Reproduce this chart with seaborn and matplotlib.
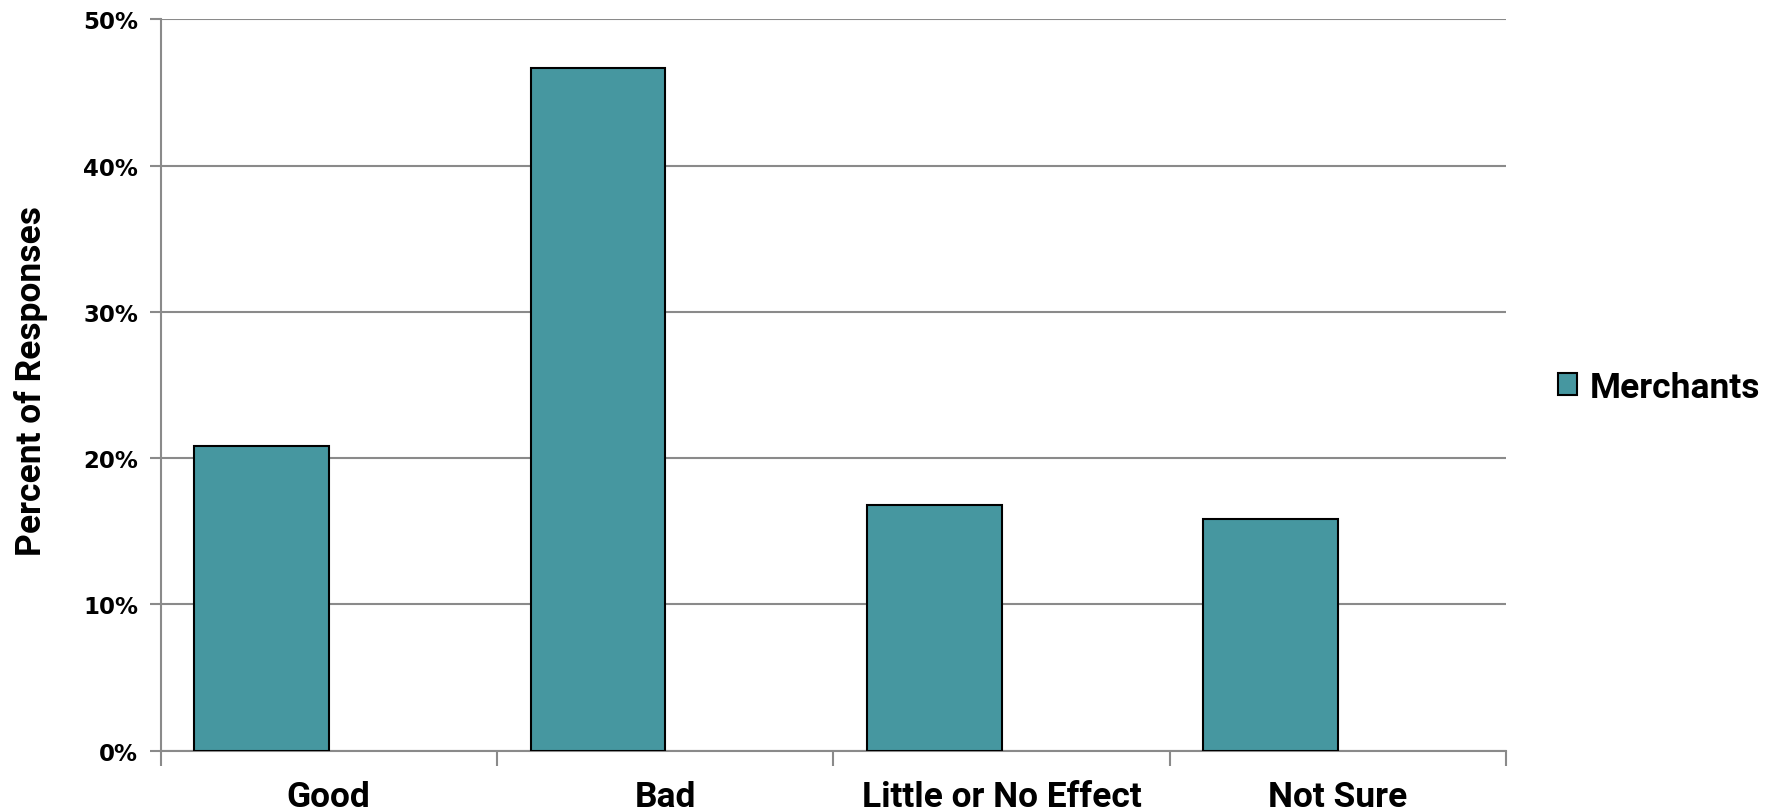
import matplotlib
matplotlib.use("Agg")
import matplotlib.pyplot as plt
import seaborn as sns
import pandas as pd
import numpy as np
from matplotlib.patches import Patch
from matplotlib.ticker import PercentFormatter

# Survey responses (percent of merchants)
categories = ["Good", "Bad", "Little or No Effect", "Not Sure"]
merchants = [20.8, 46.7, 16.8, 15.8]
y_ticks = [0, 10, 20, 30, 40, 50]
series_name = "Merchants"

bar_color = "#4697a0"
grid_color = "#8a8a8a"
label_font = ["Roboto", "Liberation Sans", "DejaVu Sans"]
label_size = 25.5

sns.set_theme(style="white")
plt.rcParams["font.family"] = ["DejaVu Sans"]
plt.rcParams["text.color"] = "black"
plt.rcParams["xtick.labelcolor"] = "black"
plt.rcParams["ytick.labelcolor"] = "black"

fig = plt.figure(figsize=(17.72, 8.12), dpi=100)
ax = fig.add_axes([0.0906, 0.0745, 0.7594, 0.9005])

df = pd.DataFrame({"category": categories, "value": merchants})
sns.barplot(data=df, x="category", y="value", order=categories,
            color=bar_color, saturation=1, width=0.4,
            edgecolor="black", linewidth=1.5, ax=ax, zorder=3)

# Each bar sits in the left half of its category slot; labels go at slot centres
pos = np.arange(len(categories))
ax.set_xlim(-0.3, len(categories) - 0.3)
ax.set_xticks(pos + 0.2)
ax.set_xticklabels(categories, fontsize=label_size, fontweight="bold", family=label_font,
                   color="black")
ax.set_xticks(np.arange(len(categories) + 1) - 0.3, minor=True)
ax.tick_params(axis="x", which="major", length=0, pad=21.5)
ax.tick_params(axis="x", which="minor", length=11, width=1.5, color=grid_color,
               direction="out", bottom=True)

ax.set_ylim(0, 50)
ax.set_yticks(y_ticks)
ax.yaxis.set_major_formatter(PercentFormatter(decimals=0))
ax.tick_params(axis="y", which="major", length=8, width=1.5, color=grid_color,
               direction="out", left=True, pad=8, labelsize=16.5, labelcolor="black")
for lbl in ax.get_yticklabels():
    lbl.set_fontweight("bold")

ax.yaxis.grid(True, color=grid_color, linewidth=1.5, zorder=0)
ax.set_axisbelow(True)
for side in ["top", "right"]:
    ax.spines[side].set_visible(False)
for side in ["left", "bottom"]:
    ax.spines[side].set_color(grid_color)
    ax.spines[side].set_linewidth(1.5)

ax.set_xlabel("")
ax.set_ylabel("")
fig.text(0.0175, 0.531, "Percent of Responses", rotation=90, va="center", ha="center",
         fontsize=label_size, fontweight="bold", family=label_font, color="black")

handle = Patch(facecolor=bar_color, edgecolor="black", linewidth=1.5)
fig.legend([handle], [series_name], loc="center left", bbox_to_anchor=(0.879, 0.522),
           frameon=False, borderpad=0, borderaxespad=0,
           handlelength=0.55, handleheight=0.55, handletextpad=0.35,
           labelcolor="black",
           prop={"family": label_font, "weight": "bold", "size": label_size})

fig.savefig("out.png", dpi=100)
